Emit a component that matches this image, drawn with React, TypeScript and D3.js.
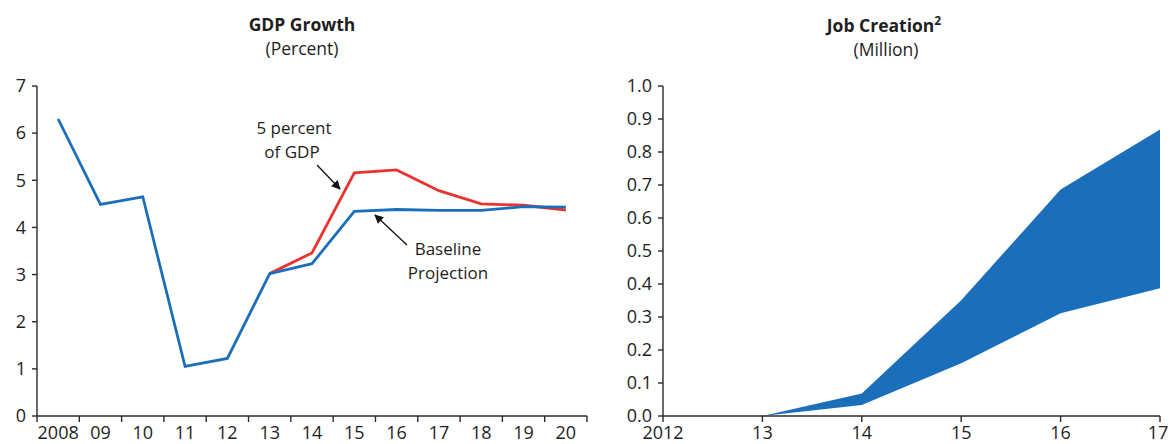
import React from "react";
import * as d3 from "d3";

const gdpYears = ["2008", "09", "10", "11", "12", "13", "14", "15", "16", "17", "18", "19", "20"];
const baseline = [6.3, 4.49, 4.65, 1.05, 1.22, 3.02, 3.23, 4.34, 4.38, 4.36, 4.36, 4.44, 4.43];
const fivePct: (number | null)[] = [null, null, null, null, null, 3.02, 3.46, 5.16, 5.22, 4.78, 4.5, 4.47, 4.37];
const gdpTicks = [0, 1, 2, 3, 4, 5, 6, 7];

const jobYears = [2012, 2013, 2014, 2015, 2016, 2017];
const jobLabels = ["2012", "13", "14", "15", "16", "17"];
const jobLower = [null, 0, 0.033, 0.16, 0.311, 0.387];
const jobUpper = [null, 0, 0.068, 0.351, 0.686, 0.868];
const jobTicks = [0, 0.1, 0.2, 0.3, 0.4, 0.5, 0.6, 0.7, 0.8, 0.9, 1.0];

const FONT = "'Open Sans', sans-serif";
const AX = "#2a2a2a";
const BLUE = "#1b6fba";
const RED = "#e8332f";
const TXT = "#1e1e1e";

export default function App() {
  const top = 86, bottom = 416;
  const lx0 = 37, lx1 = 587;
  const xb = d3.scaleBand<string>().domain(gdpYears).range([lx0, lx1]);
  const yl = d3.scaleLinear().domain([0, 7]).range([bottom, top]);
  const cx = (i: number) => (xb(gdpYears[i]) as number) + xb.bandwidth() / 2;
  const line = d3.line<number | null>()
    .defined((d) => d != null)
    .x((_, i) => cx(i))
    .y((d) => yl(d as number));

  const rx0 = 663, rx1 = 1160;
  const xr = d3.scaleLinear().domain([2012, 2017]).range([rx0, rx1]);
  const yr = d3.scaleLinear().domain([0, 1]).range([bottom, top]);
  const areaData = jobYears.map((y, i) => ({ y, lo: jobLower[i], hi: jobUpper[i] })).filter((d) => d.lo != null);
  const area = d3.area<any>().x((d) => xr(d.y)).y0((d) => yr(d.lo)).y1((d) => yr(d.hi));

  const bandEdges = gdpYears.map((g) => xb(g) as number).concat([lx1]);
  const TS = 18;
  const LBL_BASE = 439;

  return (
    <div style={{ position: "absolute", left: 0, top: 0 }}>
      <svg width={1173} height={444} style={{ display: "block", fontFamily: FONT }}>
        <defs>
          <marker id="arr" viewBox="0 0 10 10" refX="9" refY="5" markerWidth="10" markerHeight="9" orient="auto" markerUnits="userSpaceOnUse">
            <path d="M0,0 L10,5 L0,10 z" fill="#111" />
          </marker>
        </defs>
        <text x={302} y={31} textAnchor="middle" fontWeight="bold" fontSize={17.5} fill={TXT}>GDP Growth</text>
        <text x={302} y={55} textAnchor="middle" fontSize={17.5} fill={TXT}>(Percent)</text>
        <text x={884} y={32} textAnchor="middle" fontWeight="bold" fontSize={17.5} fill={TXT}>
          Job Creation<tspan fontSize={12} dy={-7}>2</tspan>
        </text>
        <text x={886} y={56} textAnchor="middle" fontSize={17.5} fill={TXT}>(Million)</text>

        <line x1={lx0} x2={lx0} y1={top} y2={bottom} stroke={AX} strokeWidth={1.4} />
        <line x1={lx0} x2={lx1} y1={bottom} y2={bottom} stroke={AX} strokeWidth={1.4} />
        {gdpTicks.map((t) => (
          <g key={t}>
            <line x1={lx0 - 5} x2={lx0} y1={yl(t)} y2={yl(t)} stroke={AX} strokeWidth={1.4} />
            <text x={lx0 - 11} y={yl(t)} dy="0.35em" textAnchor="end" fontSize={TS} fill={TXT}>{t}</text>
          </g>
        ))}
        {bandEdges.map((x, i) => (
          <line key={i} x1={x} x2={x} y1={bottom} y2={bottom + 6} stroke={AX} strokeWidth={1.4} />
        ))}
        {gdpYears.map((g, i) => (
          <text key={g} x={cx(i)} y={LBL_BASE} textAnchor="middle" fontSize={TS} fill={TXT}>{g}</text>
        ))}
        <path d={line(fivePct) || ""} fill="none" stroke={RED} strokeWidth={2.8} />
        <path d={line(baseline) || ""} fill="none" stroke={BLUE} strokeWidth={2.8} />

        <text x={294} y={128} dy="0.35em" textAnchor="middle" fontSize={17} fill={TXT}>5 percent</text>
        <text x={292} y={152} dy="0.35em" textAnchor="middle" fontSize={17} fill={TXT}>of GDP</text>
        <line x1={317} y1={165} x2={340} y2={189} stroke="#111" strokeWidth={1.3} markerEnd="url(#arr)" />
        <text x={448} y={249} dy="0.35em" textAnchor="middle" fontSize={17} fill={TXT}>Baseline</text>
        <text x={448} y={273} dy="0.35em" textAnchor="middle" fontSize={17} fill={TXT}>Projection</text>
        <line x1={407} y1={245} x2={375} y2={215} stroke="#111" strokeWidth={1.3} markerEnd="url(#arr)" />

        <path d={area(areaData) || ""} fill={BLUE} />
        <line x1={rx0} x2={rx0} y1={top} y2={bottom} stroke={AX} strokeWidth={1.4} />
        <line x1={rx0} x2={rx1} y1={bottom} y2={bottom} stroke={AX} strokeWidth={1.4} />
        {jobTicks.map((t) => (
          <g key={t}>
            <line x1={rx0 - 5} x2={rx0} y1={yr(t)} y2={yr(t)} stroke={AX} strokeWidth={1.4} />
            <text x={rx0 - 11} y={yr(t)} dy="0.35em" textAnchor="end" fontSize={TS} fill={TXT}>{t.toFixed(1)}</text>
          </g>
        ))}
        {jobYears.map((y, i) => (
          <g key={y}>
            <line x1={xr(y)} x2={xr(y)} y1={bottom} y2={bottom + 6} stroke={AX} strokeWidth={1.4} />
            <text x={Math.min(xr(y), 1158)} y={LBL_BASE} textAnchor="middle" fontSize={TS} fill={TXT}>{jobLabels[i]}</text>
          </g>
        ))}
      </svg>
    </div>
  );
}
